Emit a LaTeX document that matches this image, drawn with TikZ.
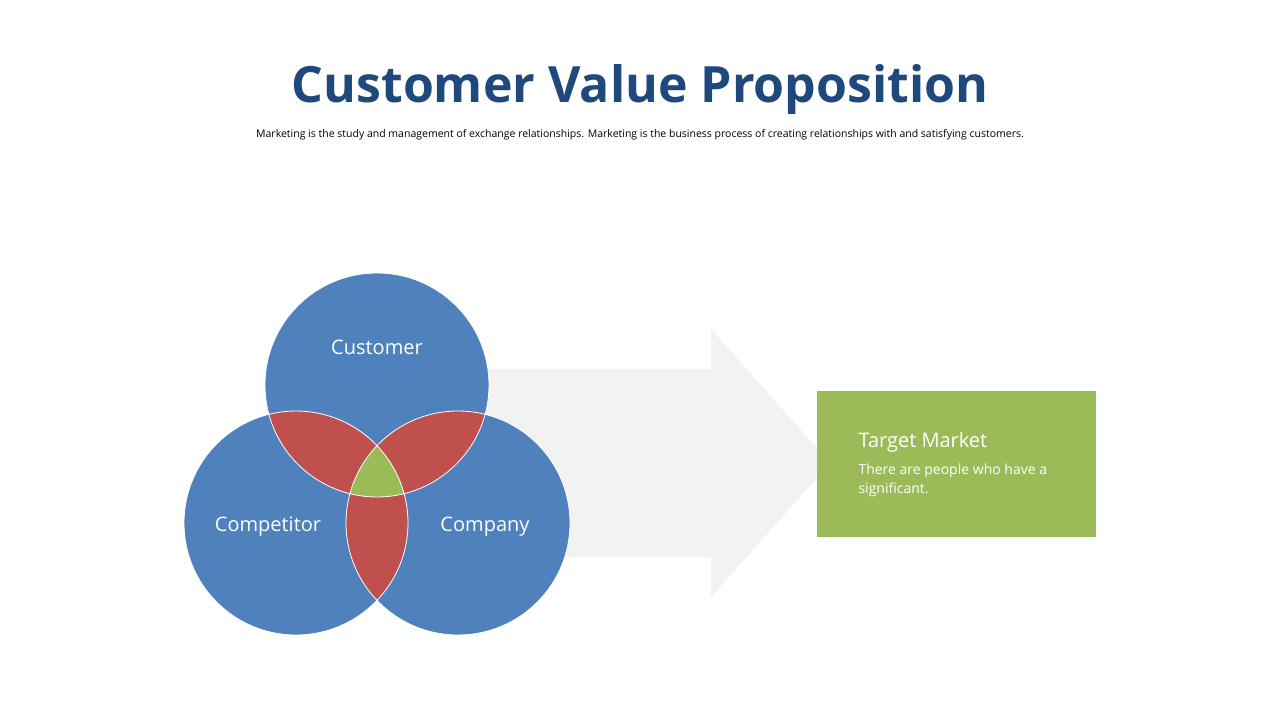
\documentclass[tikz,border=0pt]{standalone}
\usepackage{fontspec}
\setmainfont{Open Sans}
\definecolor{cblue}{HTML}{4F81BD}
\definecolor{cred}{HTML}{C0504D}
\definecolor{cgreen}{HTML}{9BBB59}
\definecolor{ctitle}{HTML}{1F497D}
\definecolor{cgray}{HTML}{F2F2F2}
\begin{document}
\begin{tikzpicture}[x=1pt,y=-1pt,
  lbl/.style={text=white,font=\fontsize{20}{24}\selectfont}]
\useasboundingbox[fill=white] (0,0) rectangle (1280,720);
\node[font=\fontsize{50}{60}\selectfont\bfseries,text=ctitle] (title) at (640,90) {Customer Value Proposition};
\node[font=\fontsize{10.5}{13}\selectfont] (sub) at (640,135) {Marketing is the study and management of exchange relationships. Marketing is the business process of creating relationships with and satisfying customers.};
% arrow
\fill[cgray] (480,369) -- (711,369) -- (711,329) -- (830,463) -- (711,597) -- (711,557) -- (480,557) -- cycle;
\def\ca{(377,385) circle (112)}
\def\cb{(296,523) circle (112)}
\def\cc{(458,523) circle (112)}
\fill[cblue] \ca; \fill[cblue] \cb; \fill[cblue] \cc;
\begin{scope}\clip \ca; \fill[cred] \cb; \fill[cred] \cc;\end{scope}
\begin{scope}\clip \cb; \fill[cred] \cc;\end{scope}
\begin{scope}\clip \ca; \clip \cb; \fill[cgreen] \cc;\end{scope}
\draw[white,line width=0.8] \ca \cb \cc;
\node[lbl] (cust) at (377,347) {Customer};
\node[lbl] (comp) at (268,527) {Competitor};
\node[lbl] (compa) at (485,527) {Company};
\fill[cgreen] (817,391) rectangle (1096,537);
\node[lbl,anchor=west] (tm) at (855,442) {Target Market};
\node[text=white,anchor=north west,align=left,font=\fontsize{14}{19}\selectfont] (tx) at (855,460) {There are people who have a\\significant.};
\end{tikzpicture}
\end{document}
